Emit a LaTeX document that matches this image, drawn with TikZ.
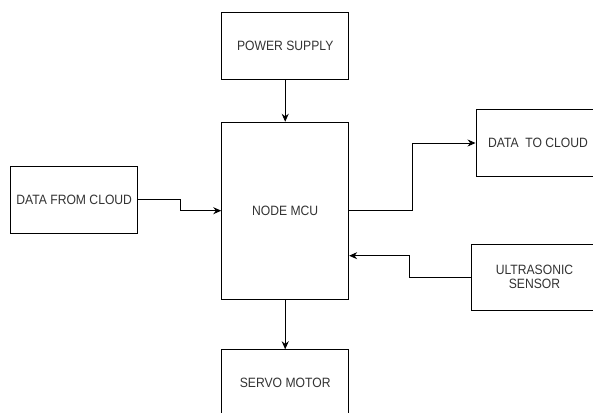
\documentclass[tikz,border=0pt]{standalone}
\usepackage{fontspec}
\setmainfont{Liberation Sans}[FakeStretch=0.9]
\usetikzlibrary{arrows.meta}
\definecolor{txt}{HTML}{333333}
\tikzset{
  blk/.style={draw=black, line width=0.9pt, rectangle, inner sep=0pt, minimum width=127pt, minimum height=66.5pt, text=txt, font=\fontsize{13.5}{14}\selectfont, align=center},
  arr/.style={draw=black, line width=0.9pt, -{Stealth[length=8pt,width=7pt]}},
}
\begin{document}
\begin{tikzpicture}[x=1pt,y=-1pt]
\useasboundingbox (0,0) rectangle (593,412);
\fill[white] (0,0) rectangle (593,412);
\clip (0,0) rectangle (593,412);
\node[blk] (ps) at (285.2,45.7) {POWER SUPPLY};
\node[blk, minimum height=177pt] (mcu) at (285.2,210.7) {NODE MCU};
\node[blk, minimum width=124pt] (dtc) at (538,143) {DATA\ \ TO CLOUD};
\node[blk] (dfc) at (74.2,199.7) {DATA FROM CLOUD};
\node[blk] (us) at (534.5,277.3) {ULTRASONIC\\SENSOR};
\node[blk] (sm) at (285.2,383) {SERVO MOTOR};
\draw[arr] (ps.south) -- (mcu.north);
\draw[arr] (mcu.south) -- (sm.north);
\draw[arr] (dfc.east) -- ++(42,0) |- (mcu.west);
\draw[arr] (mcu.east) -- ++(63,0) |- (dtc.west);
\draw[arr] (us.west) -- ++(-61.5,0) |- ([yshift=-45pt]mcu.east);
\end{tikzpicture}
\end{document}
